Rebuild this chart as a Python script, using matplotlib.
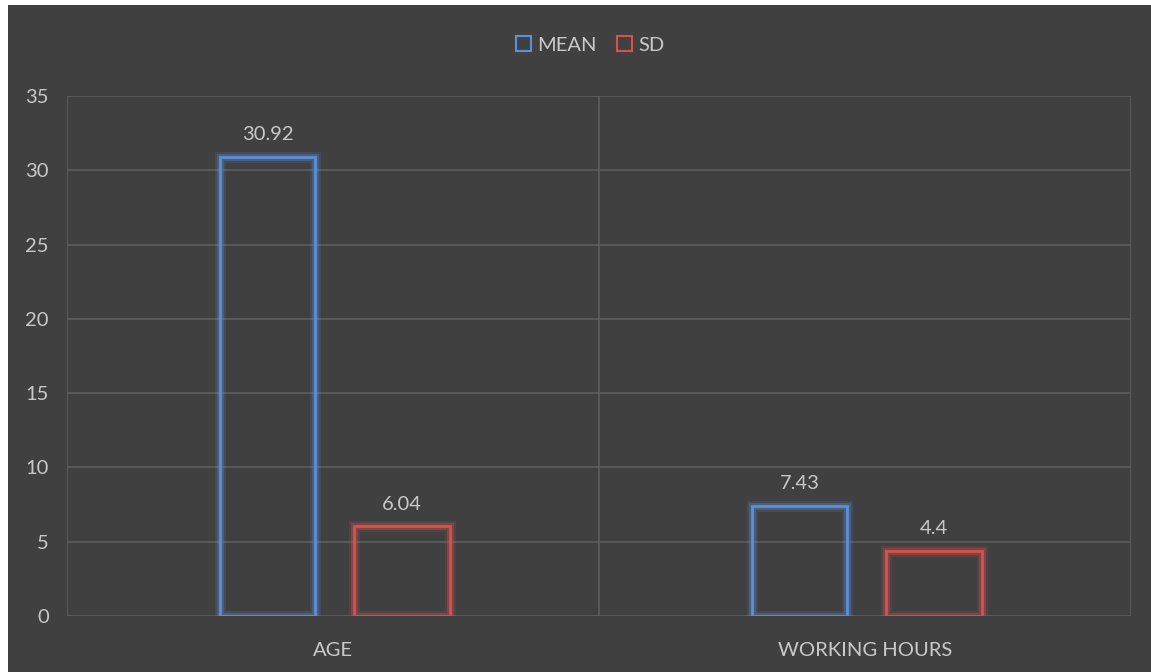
import matplotlib.pyplot as plt
import matplotlib.patheffects as pe
from matplotlib.patches import Rectangle
import numpy as np

categories = ["AGE", "WORKING HOURS"]
mean_values = [30.92, 7.43]
sd_values = [6.04, 4.4]
mean_labels = ["30.92", "7.43"]
sd_labels = ["6.04", "4.4"]

BG = "#404040"
GRID = "#5e5e5e"
TEXT = "#c9c9c9"
BLUE = "#5b8fd6"
RED = "#d9504c"

plt.rcParams["font.family"] = ["Lato", "DejaVu Sans"]

fig = plt.figure(figsize=(11.51, 6.72), dpi=100)
fig.patch.set_facecolor("white")
fig.patches.append(Rectangle((8 / 1151, 0), 1, 1 - 5 / 672, transform=fig.transFigure,
                             facecolor=BG, edgecolor="none", zorder=-10))

ax = fig.add_axes([67 / 1151, 1 - 616 / 672, (1131 - 67) / 1151, (616 - 96) / 672])
ax.set_facecolor(BG)
ax.set_zorder(2)

x = np.arange(len(categories))
width = 0.18
for vals, labels, color, off in [(mean_values, mean_labels, BLUE, -0.123),
                                 (sd_values, sd_labels, RED, 0.13)]:
    bars = ax.bar(x + off, vals, width, facecolor="none", edgecolor=color,
                  linewidth=2.0, zorder=3)
    for b in bars:
        b.set_path_effects([pe.Stroke(linewidth=8, foreground=color, alpha=0.15),
                            pe.Stroke(linewidth=5, foreground=color, alpha=0.3),
                            pe.Normal()])
    for b, lab in zip(bars, labels):
        ax.text(b.get_x() + b.get_width() / 2, b.get_height() + 0.9, lab,
                ha="center", va="bottom", color=TEXT, fontsize=14.5)

ax.set_xlim(-0.5, 1.5)
ax.set_ylim(0, 35)
ax.set_yticks(range(0, 36, 5))
ax.set_xticks(x)
ax.set_xticklabels(categories)
ax.tick_params(axis="both", length=0, colors=TEXT, labelsize=14.5)
ax.tick_params(axis="x", pad=19)
ax.tick_params(axis="y", pad=13)
ax.grid(axis="y", color=GRID, linewidth=1.2, zorder=1)
for xv in [-0.5, 0.5, 1.5]:
    ax.axvline(xv, color=GRID, linewidth=1.2, zorder=1)
for s in ax.spines.values():
    s.set_visible(False)
ax.axhline(0, color=GRID, linewidth=1.0, zorder=1)

# legend
handles = [Rectangle((0, 0), 1, 1, facecolor="none", edgecolor=BLUE, linewidth=1.5),
           Rectangle((0, 0), 1, 1, facecolor="none", edgecolor=RED, linewidth=1.5)]
leg = fig.legend(handles, ["MEAN", "SD"], loc="center", bbox_to_anchor=(0.513, 1 - 45 / 672),
                 ncol=2, frameon=False, fontsize=14.5, labelcolor=TEXT, handlelength=0.75,
                 handleheight=0.75, handletextpad=0.3, columnspacing=1.0)
leg.set_zorder(3)

fig.savefig("out.png", dpi=100, facecolor=fig.get_facecolor())
